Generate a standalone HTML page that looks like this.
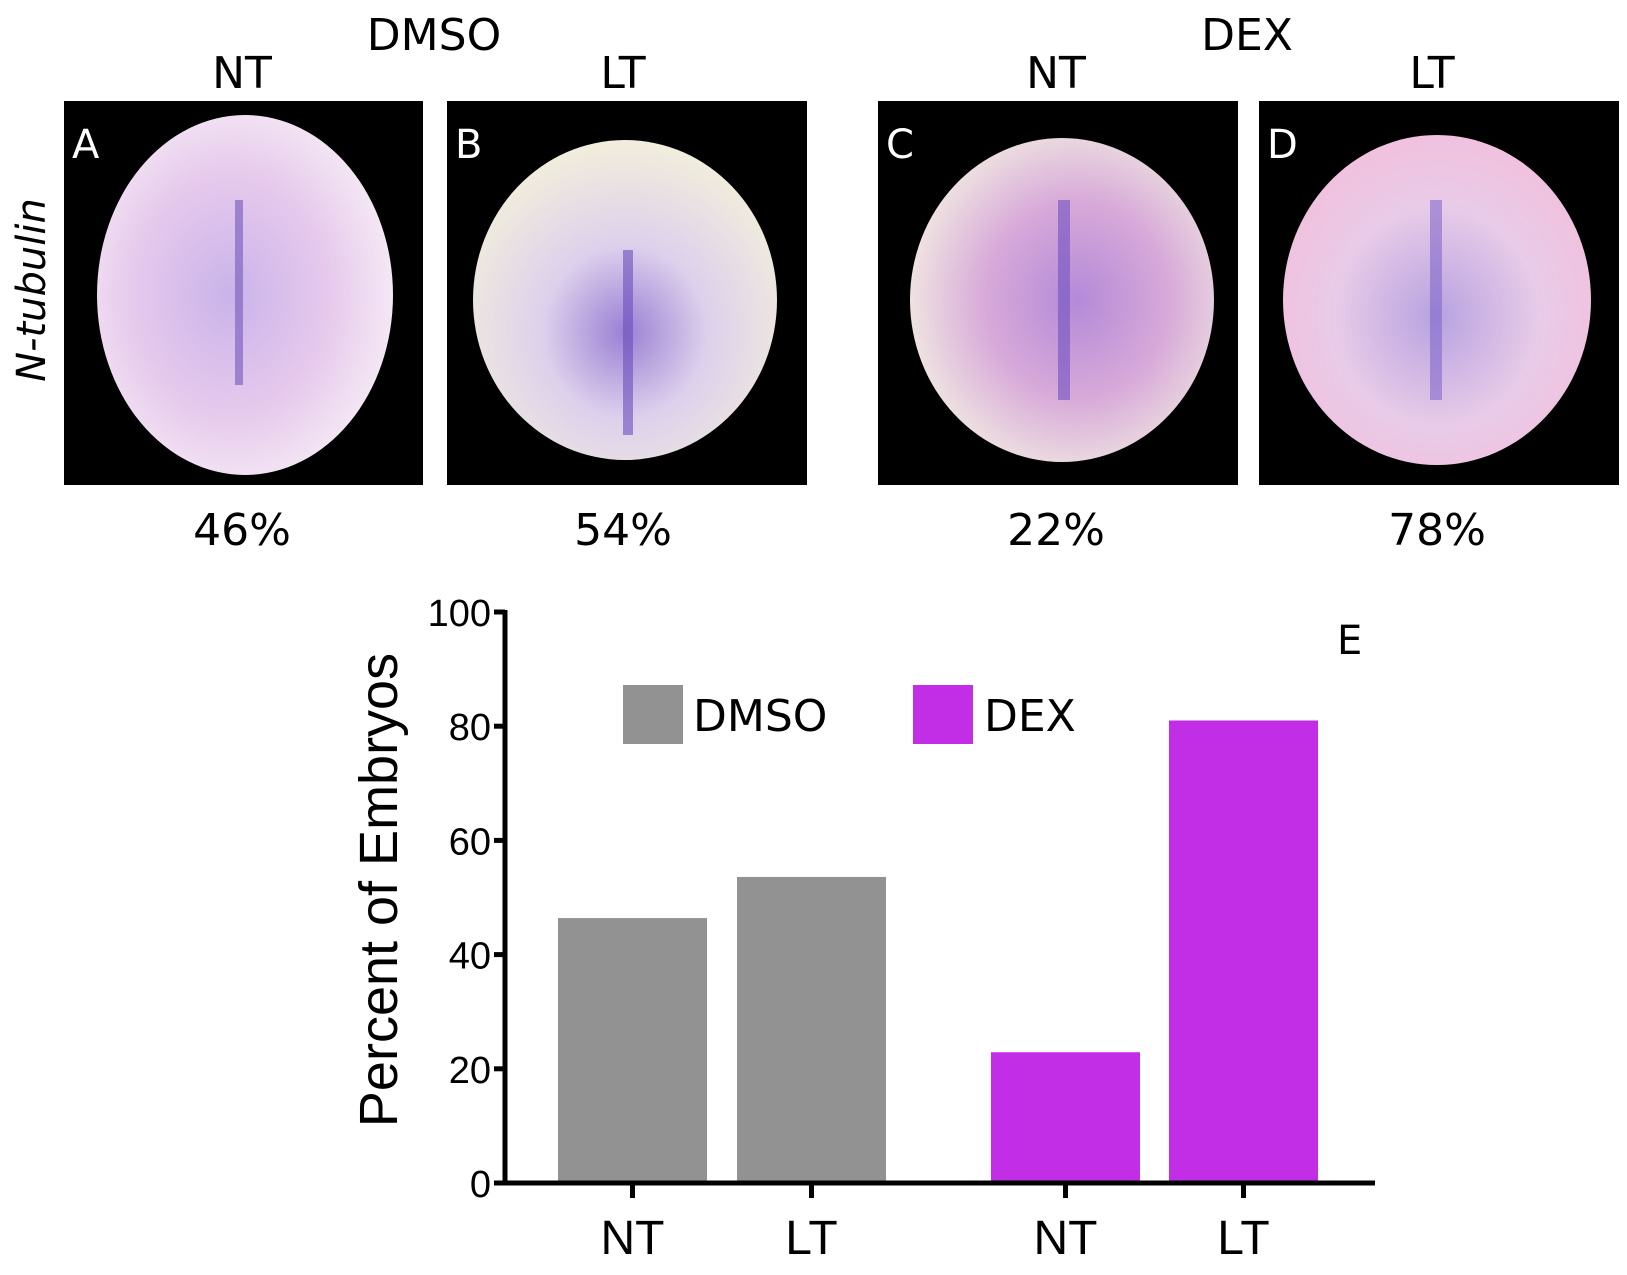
<!DOCTYPE html>
<html><head><meta charset="utf-8"><style>
body{margin:0;background:#fff;width:1627px;height:1271px;overflow:hidden;font-family:"DejaVu Sans","Liberation Sans",sans-serif}
</style></head><body>
<svg width="1627" height="1271" viewBox="0 0 1627 1271" xmlns="http://www.w3.org/2000/svg">
<defs>
<radialGradient id="gA" cx="0.45" cy="0.5" r="0.6"><stop offset="0" stop-color="#c9b3ea"/><stop offset="0.55" stop-color="#e6c9ec"/><stop offset="1" stop-color="#f7eef6"/></radialGradient>
<radialGradient id="gB" cx="0.5" cy="0.6" r="0.6"><stop offset="0" stop-color="#9a80d4"/><stop offset="0.45" stop-color="#ddd0ec"/><stop offset="1" stop-color="#f2eedc"/></radialGradient>
<radialGradient id="gC" cx="0.55" cy="0.5" r="0.6"><stop offset="0" stop-color="#b48ad8"/><stop offset="0.5" stop-color="#d7a9d9"/><stop offset="1" stop-color="#f3eee2"/></radialGradient>
<radialGradient id="gD" cx="0.5" cy="0.55" r="0.6"><stop offset="0" stop-color="#b7a2e0"/><stop offset="0.55" stop-color="#e8cbe8"/><stop offset="1" stop-color="#f2bfdc"/></radialGradient>
</defs>
<g font-size="44" text-anchor="middle" fill="#000">
<text x="434" y="50">DMSO</text>
<text x="1247" y="50">DEX</text>
<text x="242" y="88">NT</text>
<text x="623" y="88">LT</text>
<text x="1056" y="88">NT</text>
<text x="1432" y="88">LT</text>
</g>
<text transform="translate(45,290) rotate(-90)" font-size="40" font-style="italic" text-anchor="middle">N-tubulin</text>
<g><rect x="64" y="101" width="359" height="384" fill="#000"/><ellipse cx="245" cy="295" rx="148" ry="180" fill="url(#gA)"/><rect x="235" y="200" width="8" height="185" fill="#8066c0" opacity="0.7"/><text x="72" y="158" fill="#fff" font-size="40">A</text></g>
<g><rect x="447" y="101" width="360" height="384" fill="#000"/><ellipse cx="625" cy="300" rx="152" ry="160" fill="url(#gB)"/><rect x="623" y="250" width="10" height="185" fill="#6a4cbc" opacity="0.6"/><text x="455" y="158" fill="#fff" font-size="40">B</text></g>
<g><rect x="878" y="101" width="360" height="384" fill="#000"/><ellipse cx="1062" cy="300" rx="152" ry="162" fill="url(#gC)"/><rect x="1058" y="200" width="12" height="200" fill="#7050c0" opacity="0.6"/><text x="886" y="158" fill="#fff" font-size="40">C</text></g>
<g><rect x="1259" y="101" width="360" height="384" fill="#000"/><ellipse cx="1437" cy="300" rx="154" ry="165" fill="url(#gD)"/><rect x="1430" y="200" width="12" height="200" fill="#7a60c8" opacity="0.55"/><text x="1267" y="158" fill="#fff" font-size="40">D</text></g>
<g font-size="44" text-anchor="middle">
<text x="242" y="545">46%</text>
<text x="623" y="545">54%</text>
<text x="1056" y="545">22%</text>
<text x="1437" y="545">78%</text>
</g>
<g id="chart" font-family="Liberation Sans, sans-serif"></g>
</svg>
<script>
const categories = ["NT","LT","NT","LT"];
const groups = ["DMSO","DMSO","DEX","DEX"];
const values = [46.4, 53.6, 22.9, 81];
const yTicks = [0,20,40,60,80,100];
const xLeft = [558, 737, 991, 1169];
const NS="http://www.w3.org/2000/svg";
const g=document.getElementById('chart');
const y0=1183, y100=612;
function yScale(v){return y0-(y0-y100)*v/100;}
const barW=149;
const colors={DMSO:"#929292",DEX:"#c22ee5"};
function mk(t,a){const e=document.createElementNS(NS,t);for(const k in a)e.setAttribute(k,a[k]);g.appendChild(e);return e;}
values.forEach((v,i)=>{
  const r=mk('rect',{x:xLeft[i],y:yScale(v),width:barW,height:y0-yScale(v),fill:colors[groups[i]]});
  
  
  const cx=xLeft[i]+barW/2;
  const t=mk('line',{x1:cx,x2:cx,y1:y0,y2:y0+15,stroke:"#000","stroke-width":5});
  
  
  const l=mk('text',{x:cx,y:1254,"font-size":48,"text-anchor":"middle"});
  l.textContent=categories[i];
  
  
});
yTicks.forEach(v=>{
  const y=yScale(v);
  const t=mk('line',{x1:494,x2:505,y1:y,y2:y,stroke:"#000","stroke-width":5});
  
  
  const l=mk('text',{x:491,y:y+14,"font-size":38,"text-anchor":"end"});
  l.textContent=v;
  
  
});
const ya=mk('line',{x1:505,x2:505,y1:y100-2,y2:y0+2,stroke:"#000","stroke-width":5});


const xa=mk('line',{x1:503,x2:1375,y1:y0,y2:y0,stroke:"#000","stroke-width":5});


const yt=mk('text',{transform:"translate(397,890) rotate(-90)","font-size":54,"text-anchor":"middle"});
yt.textContent="Percent of Embryos";


const e=mk('text',{x:1337,y:654,"font-size":40,"font-family":"DejaVu Sans, sans-serif"});
e.textContent="E";


[["DMSO",623,693],["DEX",913,984]].forEach(([n,sx,tx])=>{
  const s=mk('rect',{x:sx,y:685,width:60,height:59,fill:colors[n]});
  
  
  const t=mk('text',{x:tx,y:731,"font-size":44,"font-family":"DejaVu Sans, sans-serif"});
  t.textContent=n;
  
  
});
</script>
</body></html>
